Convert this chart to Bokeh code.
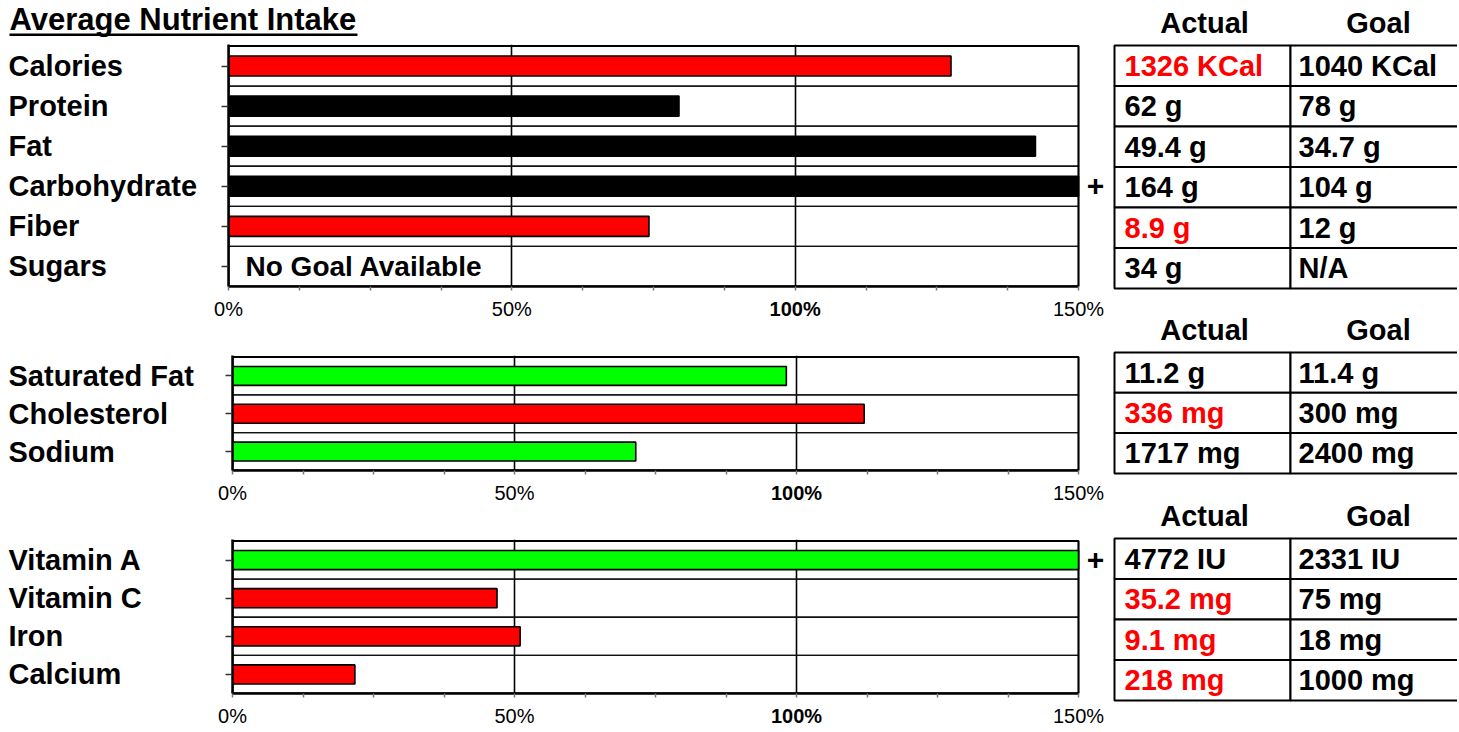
from bokeh.plotting import figure
from bokeh.models import Range1d, FixedTicker, Label, ColumnDataSource
from bokeh.layouts import row, column
from bokeh.embed import file_html
from bokeh.resources import INLINE
from bokeh.core.properties import value

FONT = "Liberation Sans"
RED = "#FF0000"
GREEN = "#00FF00"
BLACK = "#000000"

# ---------------- data ----------------
title_text = "Average Nutrient Intake"
table_headers = ["Actual", "Goal"]
no_goal_text = "No Goal Available"
plus_text = "+"

axis_ticks = [0, 50, 100, 150]
axis_tick_labels = ["0%", "50%", "100%", "150%"]
axis_tick_bold = [False, False, True, False]
minor_ticks = [0, 12.5, 25, 37.5, 50, 62.5, 75, 87.5, 100, 112.5, 125, 137.5, 150]

panel1_nutrients = ["Calories", "Protein", "Fat", "Carbohydrate", "Fiber", "Sugars"]
panel1_pct = [127.5, 79.5, 142.4, 157.7, 74.2, None]
panel1_colors = [RED, BLACK, BLACK, BLACK, RED, None]
panel1_actual = ["1326 KCal", "62 g", "49.4 g", "164 g", "8.9 g", "34 g"]
panel1_goal = ["1040 KCal", "78 g", "34.7 g", "104 g", "12 g", "N/A"]
panel1_actual_flag = [True, False, False, False, True, False]

panel2_nutrients = ["Saturated Fat", "Cholesterol", "Sodium"]
panel2_pct = [98.2, 112.0, 71.5]
panel2_colors = [GREEN, RED, GREEN]
panel2_actual = ["11.2 g", "336 mg", "1717 mg"]
panel2_goal = ["11.4 g", "300 mg", "2400 mg"]
panel2_actual_flag = [False, True, False]

panel3_nutrients = ["Vitamin A", "Vitamin C", "Iron", "Calcium"]
panel3_pct = [204.7, 46.9, 51.0, 21.7]
panel3_colors = [GREEN, RED, RED, RED]
panel3_actual = ["4772 IU", "35.2 mg", "9.1 mg", "218 mg"]
panel3_goal = ["2331 IU", "75 mg", "18 mg", "1000 mg"]
panel3_actual_flag = [False, True, True, True]

# ---------------- layout constants (pixels) ----------------
LEFT_W = 1106           # left column width (page x 0 -> 1106)
TABLE_W = 351           # right column width (page x 1106 -> 1457)
TOTAL_H = 728
BOX_RIGHT = 1078        # page x of the 150% edge of every box
FRAME_RIGHT = 1104      # page x of the right edge of the bar frames
AXIS_B = 8              # strip under each box holding the x ticks
TOP_PAD = 1.5           # px of room above each box for its top line
X_MAX = 150
NAME_X = 8
NAME_SIZE = "29px"


def blank_fig(w, h, xr, yr):
    f = figure(width=w, height=h, x_range=xr, y_range=yr,
               output_backend="svg", toolbar_location=None,
               x_axis_location=None, y_axis_location=None, min_border=0)
    f.grid.visible = False
    f.outline_line_color = None
    f.background_fill_color = "white"
    f.border_fill_color = "white"
    return f


def name_fig(names, width, frame_h, yr):
    # frames in a row are aligned by Bokeh, so the shared y range lines the rows up
    n = len(names)
    f = figure(width=width, height=frame_h + AXIS_B, x_range=Range1d(0, width),
               y_range=yr, output_backend="svg", toolbar_location=None,
               x_axis_location=None, y_axis_location=None, min_border=0,
               min_border_bottom=AXIS_B)
    f.grid.visible = False
    f.outline_line_color = None
    f.background_fill_color = "white"
    f.border_fill_color = "white"
    src = ColumnDataSource(dict(x=[NAME_X] * n, y=[i + 0.5 for i in range(n)], t=names))
    f.text(x="x", y="y", text="t", text_font=value(FONT), text_font_style="bold",
           text_font_size=NAME_SIZE, text_align="left", text_baseline="middle",
           text_color="black", source=src)
    return f


def bar_fig(pct, colors, width, frame_left, frame_h, yr, no_goal_row=None):
    n = len(pct)
    x_end = X_MAX * (FRAME_RIGHT - frame_left) / (BOX_RIGHT - frame_left)
    p = figure(width=width, height=frame_h + AXIS_B,
               x_range=Range1d(0, x_end), y_range=yr,
               output_backend="svg", toolbar_location=None,
               min_border_left=10, min_border_right=LEFT_W - FRAME_RIGHT,
               min_border_top=0, min_border_bottom=AXIS_B)
    p.background_fill_color = "white"
    p.border_fill_color = "white"
    p.outline_line_color = None

    p.ygrid.visible = False
    p.xgrid.ticker = FixedTicker(ticks=[50, 100])
    p.xgrid.grid_line_color = "black"
    p.xgrid.grid_line_width = 1.6

    xa = p.xaxis[0]
    xa.bounds = (0, X_MAX)
    xa.ticker = FixedTicker(ticks=[], minor_ticks=minor_ticks)
    xa.major_label_standoff = 0
    xa.minor_tick_out = 4
    xa.minor_tick_in = 0
    xa.minor_tick_line_color = "#777777"
    xa.minor_tick_line_width = 1.5
    xa.axis_line_color = "black"
    xa.axis_line_width = 2.5

    ya = p.yaxis[0]
    ya.ticker = FixedTicker(ticks=[], minor_ticks=[i + 0.5 for i in range(n)])
    ya.major_label_standoff = 0
    ya.minor_tick_out = 7
    ya.minor_tick_in = 0
    ya.minor_tick_line_color = "#333333"
    ya.minor_tick_line_width = 1.5
    ya.axis_line_color = "black"
    ya.axis_line_width = 2.5

    # one cell per nutrient row (row separators), then the outer box
    p.quad(left=[0] * n, right=[X_MAX] * n, top=list(range(n)),
           bottom=list(range(1, n + 1)), fill_color=None,
           line_color="#111111", line_width=1.3)
    p.quad(left=[0], right=[X_MAX], top=[0], bottom=[n], fill_color=None,
           line_color="black", line_width=2)

    ys, rights, fills = [], [], []
    for i, (v, c) in enumerate(zip(pct, colors)):
        if v is None:
            continue
        ys.append(i + 0.5)
        rights.append(min(v, X_MAX))
        fills.append(c)
    src = ColumnDataSource(dict(y=ys, right=rights, fill=fills))
    p.hbar(y="y", left=0, right="right", height=0.5, fill_color="fill",
           line_color="black", line_width=1.6, source=src)

    # "+" for values running past the 150% edge
    for i, v in enumerate(pct):
        if v is not None and v > X_MAX:
            p.add_layout(Label(x=X_MAX, y=i + 0.5, x_offset=17, text=plus_text,
                               text_font=FONT, text_font_style="bold",
                               text_font_size="30px", text_align="center",
                               text_baseline="middle", text_color="black"))

    if no_goal_row is not None:
        p.add_layout(Label(x=0, y=no_goal_row + 0.5, x_offset=17, text=no_goal_text,
                           text_font=FONT, text_font_style="bold",
                           text_font_size="28px", text_align="left",
                           text_baseline="middle", text_color="black"))
    return p


def tick_label_fig(frame_left, height, label_y):
    s = (BOX_RIGHT - frame_left) / X_MAX
    f = blank_fig(LEFT_W, height, Range1d(-frame_left / s, (LEFT_W - frame_left) / s),
                  Range1d(height, 0))
    for bold in (False, True):
        xs = [t for t, b in zip(axis_ticks, axis_tick_bold) if b == bold]
        ts = [l for l, b in zip(axis_tick_labels, axis_tick_bold) if b == bold]
        src = ColumnDataSource(dict(x=xs, y=[label_y] * len(xs), t=ts))
        f.text(x="x", y="y", text="t", text_font=value(FONT),
               text_font_style="bold" if bold else "normal", text_font_size="20px",
               text_align="center", text_baseline="middle", text_color="black",
               source=src)
    return f


def panel(names, pct, colors, frame_left, frame_h, no_goal_row=None):
    n = len(names)
    row_px = (frame_h - TOP_PAD) / n
    yr = Range1d(n, -TOP_PAD / row_px)
    nw = frame_left - 10
    return row(name_fig(names, nw, frame_h, yr),
               bar_fig(pct, colors, LEFT_W - nw, frame_left, frame_h, yr, no_goal_row))


# title strip
title_h = 44
title_f = blank_fig(LEFT_W, title_h, Range1d(0, LEFT_W), Range1d(title_h, 0))
title_f.text(x=[9], y=[19], text=[title_text], text_font=value(FONT),
             text_font_style="bold", text_font_size="31px", text_align="left",
             text_baseline="middle", text_color="black")
title_f.quad(left=[9], right=[357], top=[33], bottom=[35.5], fill_color="black",
             line_color=None)

# panels: (frame_left, frame_top, frame_h)
P1 = (228, 44, 242)
P2 = (232, 355, 115)
P3 = (232, 539, 154)

left_col = column(
    title_f,
    panel(panel1_nutrients, panel1_pct, panel1_colors, P1[0], P1[2], no_goal_row=5),
    tick_label_fig(P1[0], P2[1] - (P1[1] + P1[2] + AXIS_B), 14),
    panel(panel2_nutrients, panel2_pct, panel2_colors, P2[0], P2[2]),
    tick_label_fig(P2[0], P3[1] - (P2[1] + P2[2] + AXIS_B), 14),
    panel(panel3_nutrients, panel3_pct, panel3_colors, P3[0], P3[2]),
    tick_label_fig(P3[0], TOTAL_H - (P3[1] + P3[2] + AXIS_B), 14),
)

# ---------------- tables ----------------
X0 = LEFT_W
t = blank_fig(TABLE_W, TOTAL_H, Range1d(X0, X0 + TABLE_W), Range1d(TOTAL_H, 0))

COL_EDGES = [1114, 1290, 1520]
tables = [
    (panel1_actual, panel1_goal, panel1_actual_flag, 45, 40.5, 22),
    (panel2_actual, panel2_goal, panel2_actual_flag, 352, 40.3, 329),
    (panel3_actual, panel3_goal, panel3_actual_flag, 538, 40.5, 515),
]

cells = dict(left=[], right=[], top=[], bottom=[])
txt = dict(x=[], y=[], text=[], color=[])
hdr = dict(x=[], y=[], text=[])
for actual, goal, flags, top, rh, hy in tables:
    for i in range(len(actual)):
        for c in range(2):
            cells["left"].append(COL_EDGES[c])
            cells["right"].append(COL_EDGES[c + 1])
            cells["top"].append(top + i * rh)
            cells["bottom"].append(top + (i + 1) * rh)
        yc = top + (i + 0.5) * rh
        txt["x"] += [COL_EDGES[0] + 10, COL_EDGES[1] + 8]
        txt["y"] += [yc, yc]
        txt["text"] += [actual[i], goal[i]]
        txt["color"] += [RED if flags[i] else BLACK, BLACK]
    hdr["x"] += [1204, 1378]
    hdr["y"] += [hy, hy]
    hdr["text"] += table_headers

t.quad(left="left", right="right", top="top", bottom="bottom",
       fill_color="white", line_color="black", line_width=2,
       source=ColumnDataSource(cells))
t.text(x="x", y="y", text="text", text_color="color",
       text_font=value(FONT), text_font_style="bold", text_font_size="29px",
       text_align="left", text_baseline="middle", source=ColumnDataSource(txt))
t.text(x="x", y="y", text="text", text_color="black",
       text_font=value(FONT), text_font_style="bold", text_font_size="29px",
       text_align="center", text_baseline="middle", source=ColumnDataSource(hdr))

layout = row(left_col, t)

open("out.html", "w").write(file_html(layout, INLINE))
